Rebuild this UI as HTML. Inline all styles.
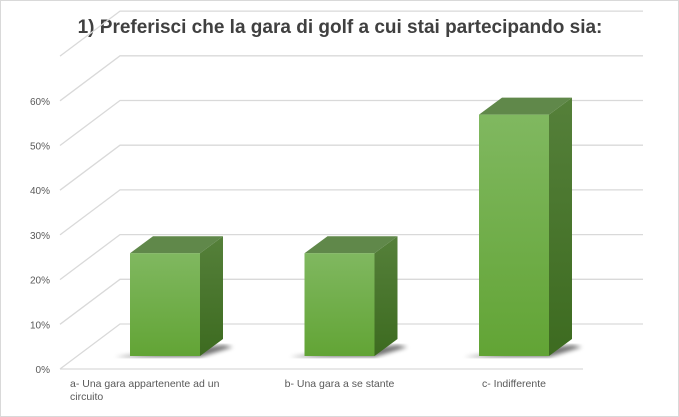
<!DOCTYPE html>
<html><head><meta charset="utf-8"><style>
body{margin:0;background:#fff}
svg{display:block;font-family:"Liberation Sans",sans-serif}
</style></head><body>
<svg id="chart" width="679" height="417" viewBox="0 0 679 417">
<defs>
<linearGradient id="gf" x1="0" y1="0" x2="0" y2="1"><stop offset="0" stop-color="#80b860"/><stop offset="1" stop-color="#62a435"/></linearGradient>
<linearGradient id="gs" x1="0" y1="0" x2="0" y2="1"><stop offset="0" stop-color="#55803a"/><stop offset="1" stop-color="#3d6b20"/></linearGradient>
<filter id="bl"><feGaussianBlur stdDeviation="2"/></filter>
</defs>
<rect x="0.5" y="0.5" width="678" height="416" fill="#fff" stroke="#d9d9d9"/>
<text x="340" y="33" text-anchor="middle" font-size="19" font-weight="bold" fill="#404040">1) Preferisci che la gara di golf a cui stai partecipando  sia:</text>
<g id="grid"></g><g id="bars"></g><g id="labels"></g>
</svg>
<script>
const categories=["a- Una gara appartenente ad un|circuito","b- Una gara a se stante","c- Indifferente"];
const values=[23,23,54];
const ticks=[0,10,20,30,40,50,60,70];
const tickLabels=["0%","10%","20%","30%","40%","50%","60%",""];
const NS="http://www.w3.org/2000/svg";
function mk(t,a,p){const e=document.createElementNS(NS,t);for(const k in a)e.setAttribute(k,a[k]);p.appendChild(e);return e;}
const yF=v=>369-v*4.47;       // front wall scale
const yB=v=>356-v*4.47;       // bar front plane
const grid=document.getElementById('grid'),bars=document.getElementById('bars'),labels=document.getElementById('labels');
ticks.forEach((t,i)=>{
  const y=yF(t);
  const g=mk('path',{d:`M60 ${y} L120 ${y-45} L643 ${y-45}`,fill:'none',stroke:'#d9d9d9','stroke-width':1.3},grid);
  
  
  if(tickLabels[i]){
    const tx=mk('text',{x:50,y:y+4,'text-anchor':'end','font-size':10,fill:'#595959'},labels);
    tx.textContent=tickLabels[i];
    
    
  }
});
const fl=mk('line',{x1:60,y1:369,x2:583,y2:369,stroke:'#d9d9d9','stroke-width':1.3},grid);


const xC=i=>165+i*174.5, bw=70, dx=23, dy=-17;
values.forEach((v,i)=>{
  const x=xC(i)-bw/2, yt=yB(v), yb=yB(0);
  const g=mk('g',{},bars);
  
  
  mk('polygon',{points:`${x-15},${yb+1} ${x+bw},${yb+1} ${x+bw+dx+10},${yb+dy+8} ${x+bw+dx},${yb+dy+6}`,fill:'#000',opacity:0.55,filter:'url(#bl)'},g);
  mk('polygon',{points:`${x+bw},${yt} ${x+bw+dx},${yt+dy} ${x+bw+dx},${yb+dy} ${x+bw},${yb}`,fill:'url(#gs)'},g);
  mk('polygon',{points:`${x},${yt} ${x+dx},${yt+dy} ${x+bw+dx},${yt+dy} ${x+bw},${yt}`,fill:'#60884a'},g);
  mk('rect',{x:x,y:yt,width:bw,height:yb-yt,fill:'url(#gf)'},g);
  const parts=categories[i].split('|');
  const t=mk('text',{'font-size':10.5,fill:'#595959'},labels);
  
  
  parts.forEach((p,j)=>{
    const s=mk('tspan',{x:parts.length>1?70:xC(i),y:387+j*13,'text-anchor':parts.length>1?'start':'middle'},t);
    s.textContent=p;
  });
});
</script>
</body></html>
